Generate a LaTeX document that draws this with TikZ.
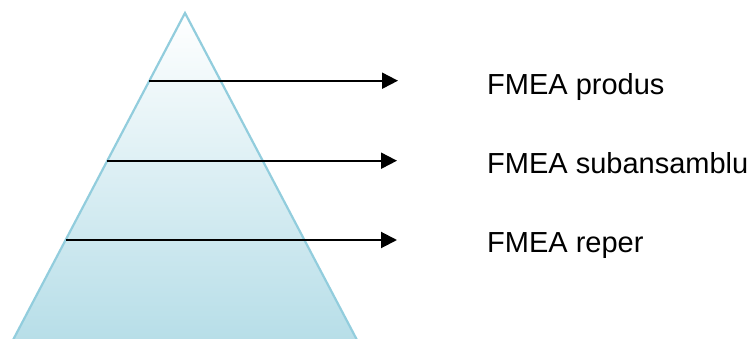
\documentclass[tikz,border=0pt]{standalone}
\usepackage{fontspec}
\setmainfont{Liberation Sans}
\usetikzlibrary{arrows.meta}
\definecolor{edgeblue}{RGB}{146,205,221}
\definecolor{fillblue}{RGB}{183,222,232}
\tikzset{
  pyr/.style={draw=edgeblue, line width=2.2pt, line join=miter, top color=white, bottom color=fillblue},
  arr/.style={draw=black, line width=2pt, -{Triangle[length=16pt,width=16pt]}},
  lbl/.style={anchor=base west, inner sep=0pt, font=\fontsize{29pt}{34pt}\selectfont}
}
\begin{document}
\begin{tikzpicture}[x=1pt,y=-1pt]
\useasboundingbox (0,0) rectangle (751,339);
\coordinate (apex) at (185,13);
\coordinate (bl) at (13,340);
\coordinate (br) at (357,340);
\path[pyr] (bl) -- (apex) -- (br);
\coordinate (s1) at (149.3,80.7);
\coordinate (s2) at (107.3,160.7);
\coordinate (s3) at (65.5,240);
\coordinate (e1) at (398,80.7);
\coordinate (e2) at (397,160.7);
\coordinate (e3) at (397,240);
\draw[arr] (s1) -- (e1);
\draw[arr] (s2) -- (e2);
\draw[arr] (s3) -- (e3);
\node[lbl] (t1) at (487,95) {FMEA produs};
\node[lbl] (t2) at (487,173) {FMEA subansamblu};
\node[lbl] (t3) at (487,252) {FMEA reper};
\end{tikzpicture}
\end{document}
